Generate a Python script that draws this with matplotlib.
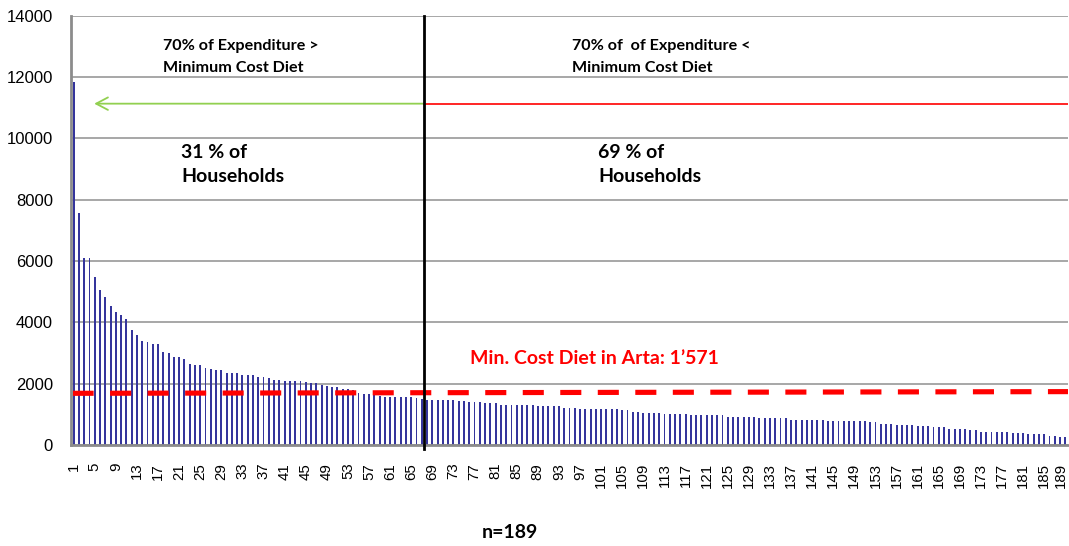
import matplotlib
matplotlib.use("Agg")
import matplotlib.pyplot as plt
from matplotlib.transforms import ScaledTranslation

# ---------------- data ----------------
households = list(range(1, 190))
expenditure = [
    11850, 7570, 6090, 6090, 5475, 5050, 4820, 4520, 4340, 4225,
    4095, 3745, 3570, 3400, 3355, 3300, 3300, 3040, 2995, 2865,
    2865, 2810, 2650, 2605, 2605, 2515, 2475, 2430, 2430, 2355,
    2330, 2330, 2290, 2290, 2265, 2210, 2210, 2170, 2125, 2125,
    2080, 2080, 2080, 2080, 2040, 2005, 2005, 1950, 1920, 1875,
    1875, 1820, 1820, 1790, 1690, 1655, 1655, 1625, 1590, 1560,
    1560, 1560, 1560, 1560, 1560, 1515, 1495, 1475, 1475, 1475,
    1475, 1475, 1475, 1430, 1430, 1385, 1385, 1385, 1355, 1355,
    1355, 1300, 1300, 1300, 1300, 1300, 1300, 1300, 1255, 1255,
    1255, 1255, 1255, 1215, 1215, 1215, 1170, 1170, 1170, 1170,
    1170, 1170, 1170, 1170, 1125, 1125, 1080, 1080, 1038, 1038,
    1038, 1038, 1005, 1005, 1005, 1005, 1005, 962, 962, 962,
    962, 962, 962, 962, 907, 907, 907, 907, 907, 907,
    864, 864, 864, 864, 864, 864, 820, 820, 820, 820,
    820, 820, 820, 766, 766, 766, 766, 766, 766, 766,
    766, 733, 733, 689, 689, 689, 646, 646, 646, 646,
    603, 603, 603, 570, 570, 570, 516, 516, 516, 516,
    473, 473, 428, 428, 428, 428, 428, 428, 385, 385,
    385, 352, 352, 352, 352, 287, 287, 254, 254,
]
xtick_values = list(range(1, 190, 4))
ytick_values = [0, 2000, 4000, 6000, 8000, 10000, 12000, 14000]
min_cost_line = [1680, 1735]          # dashed reference line (start, end)
split_position = 67.5                 # vertical separator
threshold_level = 11130               # arrow / red line level
arrow_tip = 4.9

# ---------------- figure ----------------
fig = plt.figure(figsize=(10.69, 5.46), dpi=100)
ax = fig.add_axes([71 / 1069, 1 - 444.8 / 546, 997 / 1069, (444.8 - 15.7) / 546])

ax.bar(households, expenditure, width=0.36, color="#35359C", zorder=2)

ax.set_xlim(0.5, 189.5)
ax.set_ylim(0, 14000)
ax.set_yticks(ytick_values)
ax.set_yticklabels([str(v) for v in ytick_values], fontsize=12, family="Liberation Sans")
ax.set_xticks(xtick_values)
ax.set_xticklabels([str(v) for v in xtick_values], rotation=90, fontsize=10.8,
                   family="Liberation Sans")
ax.tick_params(axis="both", length=0)
ax.tick_params(axis="y", pad=13)
ax.tick_params(axis="x", pad=13)
# nudge the last tick label slightly inside the figure
last = ax.get_xticklabels()[-1]
last.set_transform(last.get_transform() + ScaledTranslation(-4 / 100, 0, fig.dpi_scale_trans))

ax.yaxis.grid(True, color="#A0A0A0", lw=1.3, zorder=1)
ax.set_axisbelow(True)
for s in ["top", "right"]:
    ax.spines[s].set_visible(False)
for s in ["left", "bottom"]:
    ax.spines[s].set_color("#8C8C8C")
    ax.spines[s].set_linewidth(2)
    ax.spines[s].set_zorder(4)

# dashed min cost diet line
ax.plot([0.8, 189.5], min_cost_line, color="#FF0000", lw=3.7,
        ls=(0, (4.1, 3.2)), solid_capstyle="butt", dash_capstyle="butt", zorder=3)

# vertical separator
ax.plot([split_position, split_position], [-150, 14000], color="black", lw=2,
        clip_on=False, zorder=5)

# red line to the right
ax.plot([split_position, 189.5], [threshold_level, threshold_level],
        color="#FF0000", lw=1.2, zorder=3)
# green arrow to the left
ax.annotate("", xy=(arrow_tip, threshold_level), xytext=(split_position, threshold_level),
            arrowprops=dict(arrowstyle="->,head_length=0.85,head_width=0.45",
                            color="#92D050", lw=1.3, shrinkA=0, shrinkB=0), zorder=3)

bold_font = dict(family="Lato", weight="bold")


def put(x_px, y_px, s, size, color="black", ha="left"):
    fig.text(x_px / 1069, 1 - y_px / 546, s, fontsize=size, color=color,
             ha=ha, va="center", **bold_font)


put(163, 46, "70% of Expenditure >", 11.6)
put(163, 68, "Minimum Cost Diet", 11.6)
put(572, 46, "70% of  of Expenditure <", 11.6)
put(572, 68, "Minimum Cost Diet", 11.6)
put(181, 152, "31 % of", 14)
put(181, 176, "Households", 14)
put(598, 152, "69 % of", 14)
put(598, 176, "Households", 14)
put(470, 358, "Min. Cost Diet in Arta: 1\u2019571", 14, color="#FF0000")
put(510, 533, "n=189", 14, ha="center")

fig.savefig("out.png", dpi=100)
